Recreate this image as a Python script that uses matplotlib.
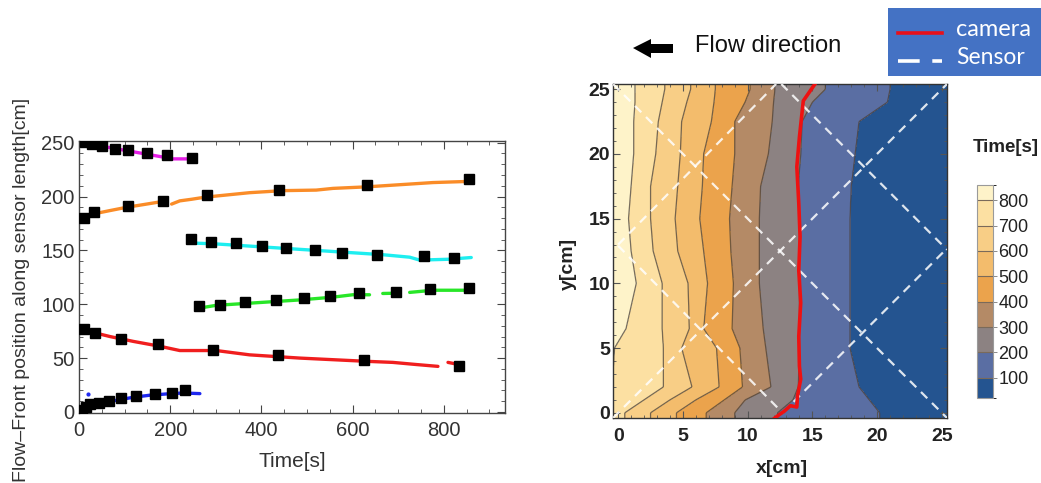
import numpy as np
import matplotlib
matplotlib.use("Agg")
import matplotlib.pyplot as plt
from matplotlib.patches import Polygon, Rectangle
from matplotlib.lines import Line2D
from matplotlib.ticker import MultipleLocator
from matplotlib.colors import ListedColormap, BoundaryNorm

plt.rcParams["font.family"] = ["Liberation Sans", "DejaVu Sans"]

# ── left panel: flow-front position along sensor vs time ─────────────────────
nan = np.nan
mag_t = [2, 10, 30, 60, 100, 140, 180, 205, 250]
mag_y = [252, 250.5, 248.5, 246, 243, 240, 237, 235, 235]
ora_t = [9, 39, 68, 104, 148, 181, nan, 203, 221, 247, 265, 301, 374, 447, 520, 557, 630, 703, 776, 849]
ora_y = [180, 184.5, 187, 190, 193, 195.3, nan, 193, 196, 197.5, 198.7, 200.5, 203.6, 205.5, 206, 207.6, 209, 211, 213, 214]
cya_t = [239, 258, 301, 374, 447, 520, 593, 666, 725, 747, 812, 860]
cya_y = [161, 156.7, 156, 154, 152, 150, 148, 146, 143.7, 141, 141.8, 143.4]
gre_t = [272, 301, 338, 411, 484, 557, 600, 637, nan, 666, 700, nan, 725, 776, 860]
gre_y = [97, 99, 100, 102, 104, 106.6, 108.8, 108.8, nan, 110, 110.3, nan, 111, 113, 113]
red_t = [6, 39, 68, 119, 177, 221, 301, 374, 484, 557, 630, 688, 740, 787, nan, 809, 827]
red_y = [78, 73, 70, 65.5, 61, 57, 57, 53, 50, 48.5, 47, 46, 44, 42.3, nan, 46, 44.5]
blu_t = [2, 8, 17, 46, 82, 119, 155, 192, 228, 265]
blu_y = [0, 3, 5.9, 8.3, 10.8, 13.6, 15.5, 16.7, 17.6, 17]

# black squares (sensor readings)
sq_mag_t = [13, 28, 50, 79, 108, 148, 194, 248]
sq_mag_y = [251, 249, 247, 244, 243, 240, 238.6, 236]
sq_ora_t = [12, 33, 108, 185, 281, 439, 632, 854]
sq_ora_y = [180.5, 186, 191, 196, 201.5, 206, 211, 216]
sq_cya_t = [245, 289, 344, 402, 453, 518, 577, 653, 756, 823]
sq_cya_y = [160.7, 158, 156.7, 154, 152.6, 150, 148, 146, 144.6, 143.4]
sq_gre_t = [263, 309, 363, 433, 493, 551, 614, 694, 770, 856]
sq_gre_y = [98, 99.5, 102, 103.5, 106, 108, 110, 111.5, 114, 115]
sq_red_t = [12, 36, 91, 173, 294, 436, 625, 834]
sq_red_y = [77, 73, 68, 62.7, 57.8, 53, 48, 42.3]
sq_blu_t = [6, 15, 24, 44, 66, 91, 126, 166, 203, 232]
sq_blu_y = [2, 5, 7, 8, 10, 13, 14.5, 16.7, 18, 20.7]

# ── right panel: fill time map (iso-time x position at each y) ───────────────
rows_y = [0, 1, 2, 5, 6.5, 10, 12.5, 15, 17.5, 20, 22.5, 24, 25]
iso_levels = [800, 700, 600, 500, 400, 300, 200, 100]
iso_x_800 = [-0.5, -0.5, -0.5, -0.3, 0.6, 1.4, 1.0, 0.8, 1.0, 1.2, 1.2, 1.3, 1.3]
iso_x_700 = [0.5, 2.0, 3.5, 3.5, 3.4, 3.4, 2.7, 2.5, 2.5, 2.9, 3.1, 3.4, 3.6]
iso_x_600 = [2.5, 4.0, 5.7, 4.9, 5.5, 5.4, 4.6, 4.4, 4.6, 4.8, 4.9, 5.3, 5.6]
iso_x_500 = [4.5, 6.0, 7.8, 7.6, 6.6, 6.9, 6.6, 6.3, 6.5, 6.6, 7.2, 7.4, 7.5]
iso_x_400 = [6.8, 8.2, 9.6, 9.4, 8.8, 8.9, 8.7, 8.6, 8.8, 9.0, 9.0, 9.8, 10.2]
iso_x_300 = [9.0, 9.8, 11.8, 11.4, 11.2, 10.9, 10.9, 10.9, 11.0, 11.6, 11.9, 12.0, 12.1]
iso_x_200 = [12.3, 13.5, 13.9, 14.0, 14.0, 14.0, 14.0, 14.0, 13.9, 14.1, 14.2, 15.0, 16.0]
iso_x_100 = [20.2, 19.4, 18.6, 17.9, 17.9, 17.9, 17.9, 17.9, 18.0, 18.3, 18.6, 20.8, 21.0]

cam_x = [12.1, 12.5, 12.8, 13.3, 13.8, 13.85, 14.1, 14.0, 13.95, 14.1, 13.95, 14.05, 13.95, 13.8, 14.0, 14.3, 15.2]
cam_y = [-0.4, -0.1, 0.1, 0.55, 0.45, 1.3, 2.6, 3.6, 5.9, 8.5, 11.0, 13.6, 16.2, 19.0, 21.3, 24.1, 25.4]

# sensor fibre segments (x pair, y pair)
sensor_x = [[0, 12.2], [-0.4, 25.4], [12.7, 25.4], [0, 12.7], [-0.4, 25.4], [12.6, 25.4]]
sensor_y = [[13.0, 25.4], [-0.4, 25.4], [0, 12.7], [12.9, 0], [25.4, -0.4], [25.4, 12.6]]

cbar_levels = [20, 100, 200, 300, 400, 500, 600, 700, 800, 860]
band_colors = ["#245490", "#5A6EA3", "#8C8282", "#B48A66", "#EBA34C",
               "#F3BC6C", "#F8CE86", "#FCE0A2", "#FEF3C9"]

# ── figure ───────────────────────────────────────────────────────────────────
W, H = 1041, 483
fig = plt.figure(figsize=(W / 100, H / 100), dpi=100)
fig.patch.set_facecolor("white")

def box(l, t, r, b):
    return [l / W, 1 - b / H, (r - l) / W, (b - t) / H]

# left panel
ax1 = fig.add_axes(box(79, 141, 505, 413))
series = [(mag_t, mag_y, "#E61EE6"), (ora_t, ora_y, "#FA8C28"),
          (cya_t, cya_y, "#1EEEF0"), (gre_t, gre_y, "#28E628"),
          (red_t, red_y, "#F01E1E"), (blu_t, blu_y, "#1E28F0")]
for t, y, c in series:
    ax1.plot(t, y, color=c, lw=2.4, solid_capstyle="round", zorder=2)
ax1.plot([20], [17], ".", color="#1E28F0", ms=4, zorder=2)
squares = [(sq_mag_t, sq_mag_y), (sq_ora_t, sq_ora_y), (sq_cya_t, sq_cya_y),
           (sq_gre_t, sq_gre_y), (sq_red_t, sq_red_y), (sq_blu_t, sq_blu_y)]
for t, y in squares:
    ax1.plot(t, y, "s", color="black", ms=6.8, zorder=3)

ax1.set_xlim(0, 934)
ax1.set_ylim(-1, 251.6)
ax1.xaxis.set_major_locator(MultipleLocator(200))
ax1.xaxis.set_minor_locator(MultipleLocator(50))
ax1.yaxis.set_major_locator(MultipleLocator(50))
ax1.yaxis.set_minor_locator(MultipleLocator(10))
ax1.tick_params(which="both", direction="in", top=True, right=True,
                color="#444", labelcolor="#333")
ax1.tick_params(which="major", length=6, width=0.8, labelsize=14.5)
ax1.tick_params(axis="x", which="major", pad=6)
ax1.tick_params(axis="y", which="major", pad=3)
ax1.tick_params(which="minor", length=3, width=0.6)
for s in ax1.spines.values():
    s.set_color("#444")
    s.set_linewidth(1.0)
ax1.set_xlabel("Time[s]", fontsize=15, color="#333")
ax1.xaxis.set_label_coords(0.5, -0.145)
ax1.set_ylabel("Flow–Front position along sensor length[cm]", fontsize=14, color="#333")
ax1.yaxis.set_label_coords(-0.114, 0.452)

# right panel
ax2 = fig.add_axes(box(613, 84, 947, 418))
xg = np.linspace(-0.4, 25.4, 420)
yg = np.linspace(-0.4, 25.4, 360)
iso_table = np.array([iso_x_800, iso_x_700, iso_x_600, iso_x_500,
                      iso_x_400, iso_x_300, iso_x_200, iso_x_100])
T = np.zeros((len(yg), len(xg)))
for j, yy in enumerate(yg):
    xb = [np.interp(yy, rows_y, iso_table[k]) for k in range(len(iso_levels))]
    T[j] = np.interp(xg, [-1] + xb + [27], [900] + iso_levels + [0])
T = np.clip(T, 21, 859)

cmap = ListedColormap(band_colors)
norm = BoundaryNorm(cbar_levels, cmap.N)
cf = ax2.contourf(xg, yg, T, levels=cbar_levels, cmap=cmap, norm=norm)
ax2.contour(xg, yg, T, levels=sorted(iso_levels), colors="#4a4038", linewidths=0.9, alpha=0.75)
for sx, sy in zip(sensor_x, sensor_y):
    ax2.plot(sx, sy, color="white", lw=1.6, dashes=(4, 3), alpha=0.85, zorder=3)
ax2.plot(cam_x, cam_y, color="#EE1111", lw=2.6, zorder=4)

ax2.set_xlim(-0.4, 25.4)
ax2.set_ylim(-0.4, 25.4)
ticks = [0, 5, 10, 15, 20, 25]
ax2.set_xticks(ticks, [str(v) for v in ticks], fontweight="bold", fontsize=14)
ax2.set_yticks(ticks, [str(v) for v in ticks], fontweight="bold", fontsize=14)
ax2.xaxis.set_minor_locator(MultipleLocator(1))
ax2.yaxis.set_minor_locator(MultipleLocator(1))
ax2.tick_params(which="both", direction="in", top=True, right=True,
                color="#555", labelcolor="#222")
ax2.tick_params(which="major", length=5, width=0.8)
ax2.tick_params(axis="x", which="major", pad=7)
ax2.tick_params(axis="y", which="major", pad=2)
ax2.tick_params(which="minor", length=2.5, width=0.6)
for s in ax2.spines.values():
    s.set_color("#333")
    s.set_linewidth(1.0)
ax2.set_xlabel("x[cm]", fontsize=14, fontweight="bold", color="#222")
ax2.xaxis.set_label_coords(0.506, -0.125)
ax2.set_ylabel("y[cm]", fontsize=14, fontweight="bold", color="#222")
ax2.yaxis.set_label_coords(-0.108, 0.46)

# colour bar
cax = fig.add_axes(box(977, 185, 993, 398))
cb = fig.colorbar(cf, cax=cax, ticks=sorted(iso_levels), spacing="proportional", drawedges=True)
cb.outline.set_edgecolor("#9a9a9a")
cb.outline.set_linewidth(0.8)
cb.dividers.set_color("#7a6a5a")
cb.dividers.set_linewidth(0.8)
cax.tick_params(length=3, width=0.6, color="#777", labelsize=13, pad=1, labelcolor="#222")

# ── overlay: title annotations and legend box (pixel coordinates) ────────────
ov = fig.add_axes([0, 0, 1, 1], zorder=10)
ov.set_xlim(0, W)
ov.set_ylim(H, 0)
ov.axis("off")
ov.patch.set_alpha(0)

ov.text(973, 147, "Time[s]", fontsize=13.5, fontweight="bold", color="#222",
        ha="left", va="center")

arrow = Polygon([[633, 48], [651, 39], [651, 44], [673, 44], [673, 53], [651, 53], [651, 58]],
                closed=True, facecolor="black", edgecolor="none")
ov.add_patch(arrow)
ov.text(695, 46, "Flow direction", fontsize=17, color="#111", ha="left", va="center")

ov.add_patch(Rectangle((888, 8), 160, 68, facecolor="#4472C4", edgecolor="none"))
ov.add_line(Line2D([898, 942], [33, 33], color="#E8101A", lw=2.6))
ov.add_line(Line2D([898, 942], [61, 61], color="white", lw=2.6, dashes=(6, 3.5)))
ov.text(956, 30, "camera", fontsize=17, color="white", family=["Lato", "DejaVu Sans"],
        ha="left", va="center")
ov.text(956, 57, "Sensor", fontsize=16.5, color="white", family=["Lato", "DejaVu Sans"],
        ha="left", va="center")

fig.savefig("out.png", dpi=100)
